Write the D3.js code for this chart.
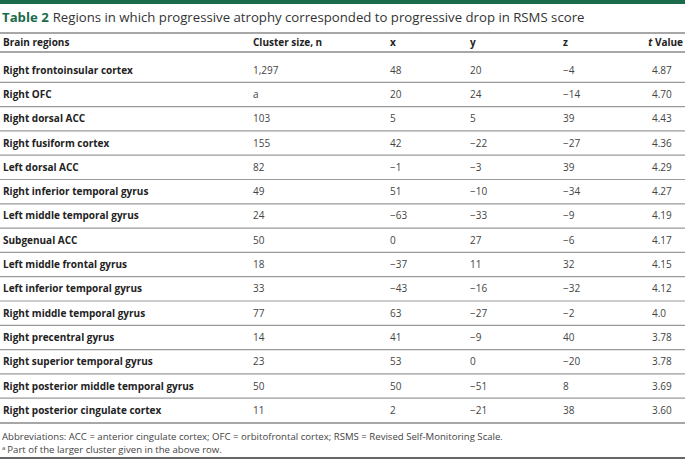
<!DOCTYPE html>
<html><head><meta charset="utf-8">
<script src="https://cdn.jsdelivr.net/npm/d3@7"></script>
<style>body{margin:0;background:#fff}svg{display:block;font-family:"Open Sans",sans-serif}</style>
</head><body><svg id="c" width="685" height="459"></svg>
<script>
const headers = ["Brain regions","Cluster size, n","x","y","z","t Value"];
const regions = ["Right frontoinsular cortex","Right OFC","Right dorsal ACC","Right fusiform cortex","Left dorsal ACC","Right inferior temporal gyrus","Left middle temporal gyrus","Subgenual ACC","Left middle frontal gyrus","Left inferior temporal gyrus","Right middle temporal gyrus","Right precentral gyrus","Right superior temporal gyrus","Right posterior middle temporal gyrus","Right posterior cingulate cortex"];
const clusterSize = ["1,297","a","103","155","82","49","24","50","18","33","77","14","23","50","11"];
const xs = ["48","20","5","42","−1","51","−63","0","−37","−43","63","41","53","50","2"];
const ys = ["20","24","5","−22","−3","−10","−33","27","11","−16","−27","−9","0","−51","−21"];
const zs = ["−4","−14","39","−27","39","−34","−9","−6","32","−32","−2","40","−20","8","38"];
const tValues = ["4.87","4.70","4.43","4.36","4.29","4.27","4.19","4.17","4.15","4.12","4.0","3.78","3.78","3.69","3.60"];
const titleLabel = "Table 2";
const titleText = "Regions in which progressive atrophy corresponded to progressive drop in RSMS score";
const footnotes = ["Abbreviations: ACC = anterior cingulate cortex; OFC = orbitofrontal cortex; RSMS = Revised Self-Monitoring Scale.", "Part of the larger cluster given in the above row."];

const svg = d3.select("#c");
const W = 685;
const colX = d3.scaleOrdinal().domain(d3.range(6)).range([3, 253, 390, 470, 563, 652]);
const rowY = d3.scaleBand().domain(d3.range(regions.length)).range([58, 422.5]);

svg.append("rect").attr("x",0).attr("y",0).attr("width",W).attr("height",4).attr("fill","#1b6b4b");
const t = svg.append("text").attr("x",2).attr("y",22).attr("font-size",13.2);
t.append("tspan").attr("font-weight",700).attr("fill","#1b6b4b").text(titleLabel);
t.append("tspan").attr("dx",4).attr("fill","#333").text(titleText);

svg.append("line").attr("x1",0).attr("x2",W).attr("y1",33).attr("y2",33).attr("stroke","#8a8a8a").attr("stroke-width",1.6);
svg.append("line").attr("x1",0).attr("x2",W).attr("y1",52).attr("y2",52).attr("stroke","#8a8a8a").attr("stroke-width",1.6);

const hdr = svg.append("g").attr("font-size",10).attr("font-weight",700).attr("fill","#222");
headers.forEach((h,i)=>{
  const tx = hdr.append("text").attr("y",46).attr("x", i===5 ? W-2 : colX(i)).attr("text-anchor", i===5?"end":"start");
  if(i===5){ tx.append("tspan").attr("font-style","italic").text("t"); tx.append("tspan").text(" Value"); }
  else tx.text(h);
});

const rows = regions.map((r,i)=>[r,clusterSize[i],xs[i],ys[i],zs[i],tValues[i]]);
const g = svg.append("g");
rows.forEach((row,i)=>{
  const yc = rowY(i) + rowY.bandwidth()/2;
  row.forEach((v,j)=>{
    g.append("text").attr("x",colX(j)).attr("y",yc+3.5)
      .attr("font-size",10).attr("font-weight", j===0?700:400)
      .attr("fill", j===0?"#222":"#444").text(v);
  });
  if(i < rows.length-1){
    g.append("line").attr("x1",0).attr("x2",W).attr("y1",rowY(i)+rowY.bandwidth()).attr("y2",rowY(i)+rowY.bandwidth())
      .attr("stroke","#9a9a9a").attr("stroke-width",1.2);
  }
});
svg.append("line").attr("x1",0).attr("x2",W).attr("y1",423).attr("y2",423).attr("stroke","#8a8a8a").attr("stroke-width",1.6);

svg.append("text").attr("x",2).attr("y",440).attr("font-size",9.6).attr("fill","#444").text(footnotes[0]);
const f2 = svg.append("text").attr("x",2).attr("y",453).attr("font-size",9.6).attr("fill","#444");
f2.append("tspan").attr("font-size",6).attr("dy",-3).text("a");
f2.append("tspan").attr("dy",3).attr("dx",2).text(footnotes[1]);
svg.append("line").attr("x1",0).attr("x2",W).attr("y1",458).attr("y2",458).attr("stroke","#333").attr("stroke-width",1.5);
</script></body></html>
